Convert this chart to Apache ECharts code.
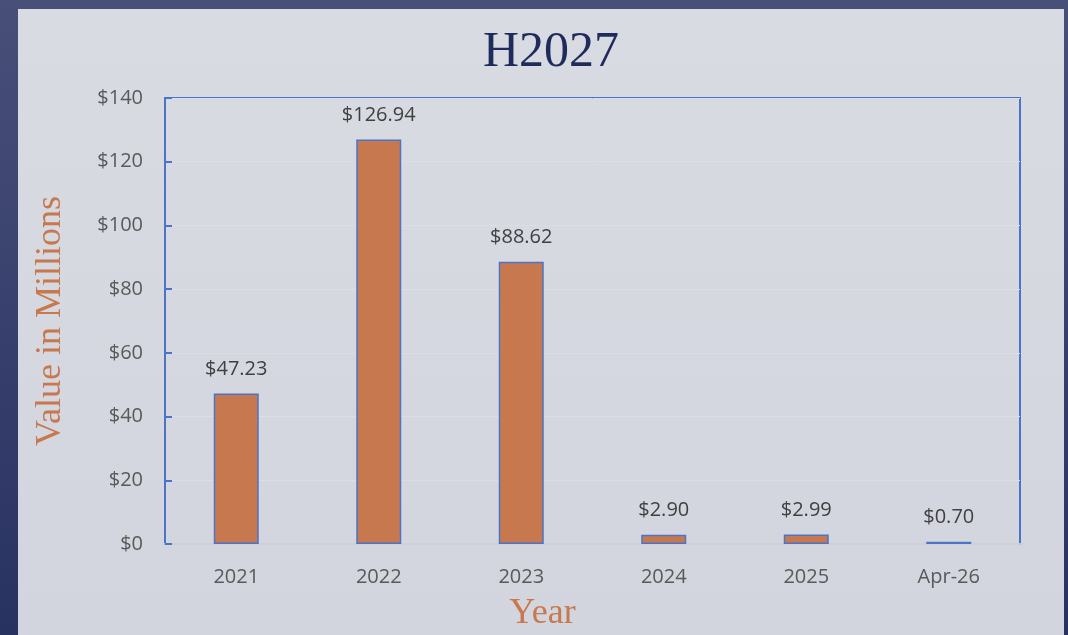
<!DOCTYPE html>
<html>
<head>
<meta charset="utf-8">
<script src="https://cdn.jsdelivr.net/npm/echarts@6/dist/echarts.min.js"></script>
<style>
html,body{margin:0;padding:0;width:1068px;height:635px;overflow:hidden;background:linear-gradient(to bottom,#484f79,#283261);}
#chart{width:1068px;height:635px;}
</style>
</head>
<body>
<div id="chart"></div>
<script>
const titleText = 'H2027';
const categories = ['2021', '2022', '2023', '2024', '2025', 'Apr-26'];
const values = [47.23, 126.94, 88.62, 2.90, 2.99, 0.70];
const yTicks = { min: 0, max: 140, interval: 20 };
const yAxisName = 'Value in Millions';
const xAxisName = 'Year';

const chart = echarts.init(document.getElementById('chart'), null, { renderer: 'canvas' });
const sans = '"Open Sans", "Noto Sans", sans-serif';
const serif = '"Liberation Serif", "DejaVu Serif", serif';

chart.setOption({
  backgroundColor: 'transparent',
  animation: false,
  graphic: [{
    type: 'rect', z: -100, silent: true,
    shape: { x: 18, y: 9, width: 1046, height: 630 },
    style: { fill: new echarts.graphic.LinearGradient(0, 0, 0, 1, [
      { offset: 0, color: '#d9dbe3' }, { offset: 1, color: '#d3d5de' }]) }
  }],
  title: {
    text: titleText, left: 546, top: 23, textAlign: 'center',
    textStyle: { fontFamily: serif, fontSize: 50, fontWeight: 'normal', color: '#1f2b5b' }
  },
  grid: {
    left: 165, right: 48, top: 98, bottom: 91,
    outerBoundsMode: 'none', containLabel: false,
    show: true, borderColor: '#4a74c8', borderWidth: 2, backgroundColor: 'transparent'
  },
  xAxis: {
    type: 'category', data: categories,
    name: xAxisName, nameLocation: 'middle', nameGap: 52,
    nameTextStyle: { fontFamily: serif, fontSize: 36, color: '#c8784f', padding: [0, 100, 0, 0] },
    axisLine: { show: true, lineStyle: { color: '#cfd0d6', width: 2 } },
    axisTick: { show: false },
    axisLabel: { margin: 23, fontFamily: sans, fontSize: 20, color: '#595959' }
  },
  yAxis: {
    type: 'value', min: yTicks.min, max: yTicks.max, interval: yTicks.interval,
    name: yAxisName, nameLocation: 'middle', nameGap: 96,
    nameTextStyle: { fontFamily: serif, fontSize: 36, color: '#c8784f' },
    axisLine: { show: true, lineStyle: { color: '#4a74c8', width: 2 } },
    axisTick: { show: true, inside: true, length: 7, lineStyle: { color: '#4a74c8', width: 2 } },
    axisLabel: { margin: 22, fontFamily: sans, fontSize: 20, color: '#595959', formatter: v => '$' + v },
    splitLine: { show: true, lineStyle: { color: '#dcdee5', width: 1 } }
  },
  series: [{
    type: 'bar', data: values, barWidth: 45,
    itemStyle: { color: '#c8784f', borderColor: '#4a74c8', borderWidth: 1.5 },
    label: {
      show: true, position: 'top', distance: 14,
      fontFamily: sans, fontSize: 20, color: '#404040',
      formatter: p => '$' + p.value.toFixed(2)
    }
  }]
});
</script>
</body>
</html>
